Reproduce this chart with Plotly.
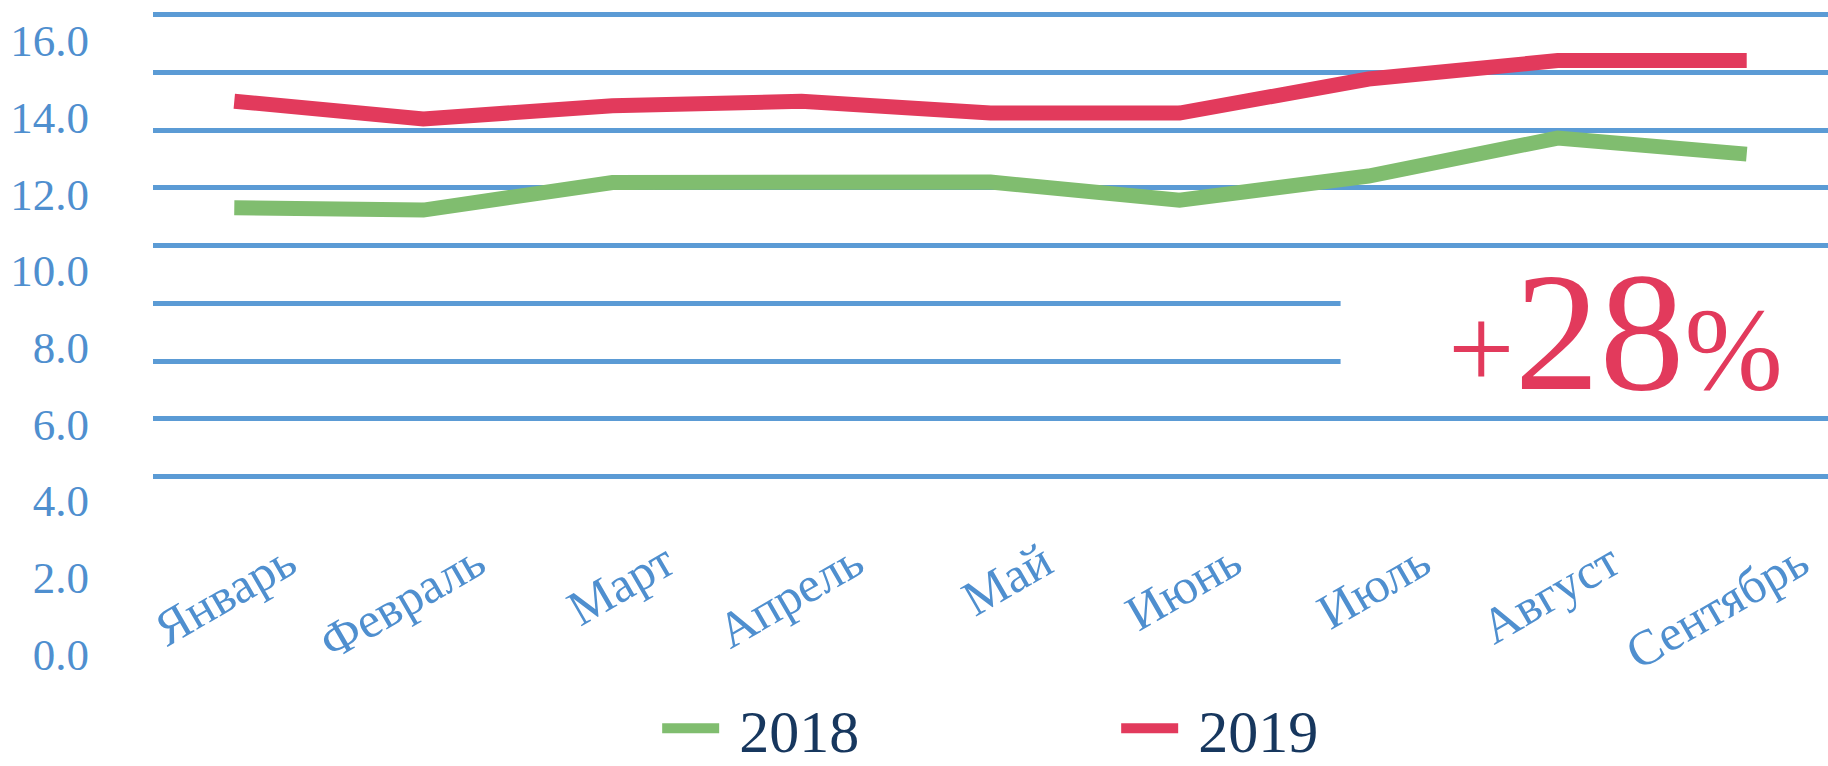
import plotly.graph_objects as go

months = ["Январь", "Февраль", "Март", "Апрель", "Май", "Июнь", "Июль", "Август", "Сентябрь"]
series_2018 = [11.64, 11.58, 12.30, 12.35, 12.31, 11.84, 12.47, 13.46, 13.04]
series_2019 = [14.42, 13.96, 14.30, 14.42, 14.11, 14.11, 15.00, 15.48, 15.48]
series_names = ["2018", "2019"]
y_ticks = [0, 2, 4, 6, 8, 10, 12, 14, 16]
grid_levels = [0, 1, 2, 3, 4, 5, 6, 7, 8]
badge_text = "+<span style='font-size:170px'>28</span>%"

GREEN = "#80BD6F"
RED = "#E23A5C"
BLUE = "#5B9BD5"
TICK_BLUE = "#4F8FCF"
NAVY = "#17375E"
SERIF = "Liberation Serif, Times New Roman, serif"

fig = go.Figure()
fig.add_trace(go.Scatter(x=months, y=series_2018, name="\u00a0" + series_names[0], mode="lines",
                         line=dict(color=GREEN, width=15)))
fig.add_trace(go.Scatter(x=months, y=series_2019, name="\u00a0" + series_names[1], mode="lines",
                         line=dict(color=RED, width=15)))
# invisible helper trace for the decorative grid axis
fig.add_trace(go.Scatter(x=[months[0]], y=[grid_levels[0]], yaxis="y2", mode="markers",
                         marker=dict(opacity=0), showlegend=False, hoverinfo="skip"))

fig.update_layout(
    width=1828, height=766,
    margin=dict(l=153, r=0, t=10, b=106, autoexpand=False),
    paper_bgcolor="white", plot_bgcolor="white",
    font=dict(family=SERIF),
    xaxis=dict(
        type="category", range=[-0.43, 8.43], automargin=False,
        anchor="free", position=0.211,
        showgrid=False, showline=False, zeroline=False, ticks="",
        tickangle=-30, ticklabelshift=53, ticklabelstandoff=0,
        tickfont=dict(family=SERIF, size=50, color=TICK_BLUE),
    ),
    yaxis=dict(
        range=[-0.157, 16.80], tickvals=y_ticks, automargin=False,
        tickformat=".1f",
        showgrid=False, zeroline=False, showline=False, ticks="",
        ticklabelstandoff=63,
        tickfont=dict(family=SERIF, size=45, color=TICK_BLUE),
    ),
    yaxis2=dict(
        overlaying="y", range=[-3.174, 8.081], tickmode="array", tickvals=grid_levels,
        showticklabels=False, showgrid=True, gridcolor=BLUE, gridwidth=4.5,
        zeroline=False, showline=False, ticks="", automargin=False,
    ),
    legend=dict(
        orientation="h", x=0.301, xanchor="left", y=-0.105, yanchor="middle",
        font=dict(family=SERIF, size=60, color=NAVY),
        entrywidth=387, entrywidthmode="pixels", itemwidth=57,
    ),
    showlegend=True,
    shapes=[dict(type="rect", xref="paper", yref="paper", x0=0.709, x1=1.02,
                 y0=0.392, y1=0.623, fillcolor="white", line=dict(width=0), layer="above")],
    annotations=[dict(text=badge_text, xref="paper", yref="paper", x=0.873, y=0.504,
                      xanchor="center", yanchor="middle", showarrow=False,
                      font=dict(family=SERIF, size=118, color=RED))],
)

fig.write_html("out.html", config={"displayModeBar": False},
               post_script="document.body.style.margin='0';")
